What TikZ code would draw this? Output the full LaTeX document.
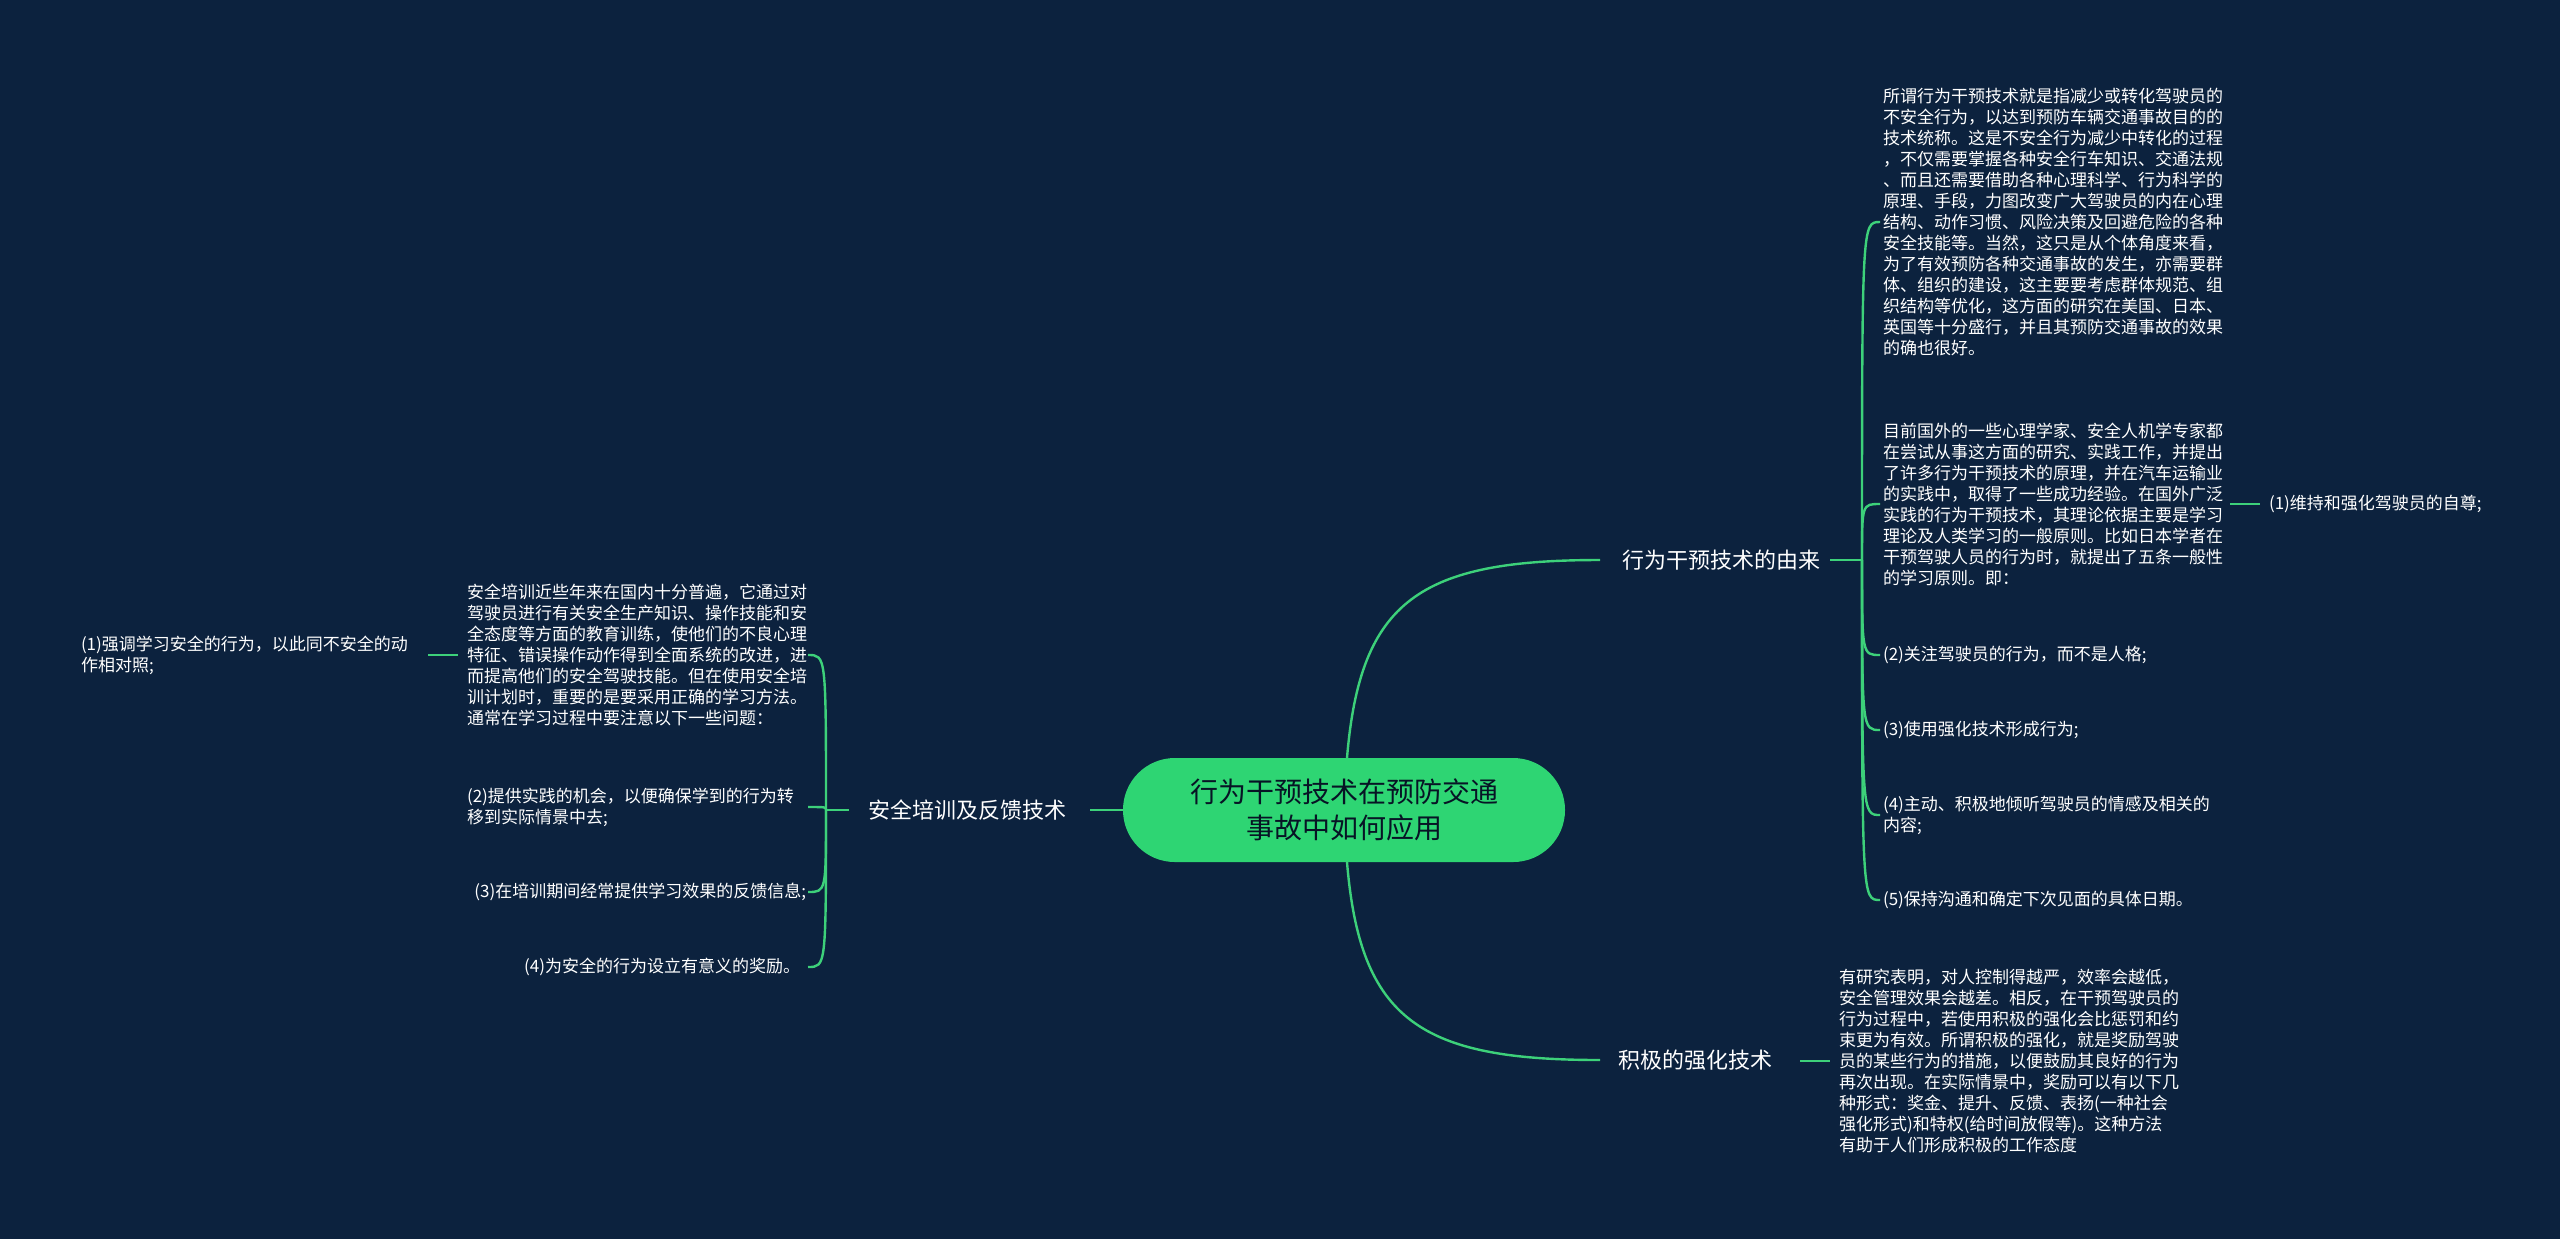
\documentclass[tikz,border=0pt]{standalone}
\usepackage{fontspec}
\setmainfont{Noto Sans CJK SC}
\definecolor{bg}{HTML}{0C223E}
\definecolor{ln}{HTML}{3DD17A}
\definecolor{ctr}{HTML}{2ED573}
\begin{document}
\begin{tikzpicture}[x=0.5pt,y=-0.5pt,
 every node/.style={inner sep=0pt,outer sep=0pt},
 leaf/.style={text=white,font=\fontsize{8.5}{10.5}\selectfont},
 lleaf/.style={leaf,anchor=west,align=left},
 rleaf/.style={leaf,anchor=east,align=right},
 br/.style={text=white,font=\fontsize{11}{13}\selectfont},
 con/.style={draw=ln,line width=1.2pt}]
\fill[bg] (0,0) rectangle (2560,1239);
\useasboundingbox (0,0) rectangle (2560,1239);
\node[fill=ctr,rounded corners=25.9pt,minimum width=221pt,minimum height=52pt,align=center,text=bg!60!black,font=\fontsize{14}{18}\selectfont] (c) at (1344,810) {行为干预技术在预防交通\\事故中如何应用};
% branch 1
\node[br,anchor=west] (b1) at (1622,560) {行为干预技术的由来};
\draw[con] (1347,758) .. controls (1360,600) and (1420,560) .. (1600,560);
\coordinate (s1) at (1862,560);
\draw[con] (1830,560) -- (s1);
\node[lleaf] (r1) at (1883,222) {所谓行为干预技术就是指减少或转化驾驶员的\\不安全行为，以达到预防车辆交通事故目的的\\技术统称。这是不安全行为减少中转化的过程\\，不仅需要掌握各种安全行车知识、交通法规\\、而且还需要借助各种心理科学、行为科学的\\原理、手段，力图改变广大驾驶员的内在心理\\结构、动作习惯、风险决策及回避危险的各种\\安全技能等。当然，这只是从个体角度来看，\\为了有效预防各种交通事故的发生，亦需要群\\体、组织的建设，这主要要考虑群体规范、组\\织结构等优化，这方面的研究在美国、日本、\\英国等十分盛行，并且其预防交通事故的效果\\的确也很好。};
\node[lleaf] (r2) at (1883,504) {目前国外的一些心理学家、安全人机学专家都\\在尝试从事这方面的研究、实践工作，并提出\\了许多行为干预技术的原理，并在汽车运输业\\的实践中，取得了一些成功经验。在国外广泛\\实践的行为干预技术，其理论依据主要是学习\\理论及人类学习的一般原则。比如日本学者在\\干预驾驶人员的行为时，就提出了五条一般性\\的学习原则。即：};
\node[lleaf] (r21) at (2269,504) {(1)维持和强化驾驶员的自尊;};
\draw[con] (2230,504) -- (2260,504);
\node[lleaf] (r3) at (1883,655) {(2)关注驾驶员的行为，而不是人格;};
\node[lleaf] (r4) at (1883,730) {(3)使用强化技术形成行为;};
\node[lleaf] (r5) at (1883,815) {(4)主动、积极地倾听驾驶员的情感及相关的\\内容;};
\node[lleaf] (r6) at (1883,900) {(5)保持沟通和确定下次见面的具体日期。};
\foreach \y in {222,504,655,730,815,900}
  \draw[con] (s1) .. controls (1862,\y) and (1862,\y) .. (1880,\y);
% branch 2
\node[br,anchor=west] (b2) at (1618,1060) {积极的强化技术};
\draw[con] (1347,862) .. controls (1360,1020) and (1420,1060) .. (1600,1060);
\node[lleaf] (g1) at (1839,1061) {有研究表明，对人控制得越严，效率会越低，\\安全管理效果会越差。相反，在干预驾驶员的\\行为过程中，若使用积极的强化会比惩罚和约\\束更为有效。所谓积极的强化，就是奖励驾驶\\员的某些行为的措施，以便鼓励其良好的行为\\再次出现。在实际情景中，奖励可以有以下几\\种形式：奖金、提升、反馈、表扬(一种社会\\强化形式)和特权(给时间放假等)。这种方法\\有助于人们形成积极的工作态度};
\draw[con] (1800,1061) -- (1830,1061);
% left branch
\node[br,anchor=east] (b3) at (1066,810) {安全培训及反馈技术};
\draw[con] (1123,810) -- (1090,810);
\coordinate (s3) at (826,810);
\draw[con] (849,810) -- (s3);
\node[leaf,anchor=west,align=left] (l1) at (467,655) {安全培训近些年来在国内十分普遍，它通过对\\驾驶员进行有关安全生产知识、操作技能和安\\全态度等方面的教育训练，使他们的不良心理\\特征、错误操作动作得到全面系统的改进，进\\而提高他们的安全驾驶技能。但在使用安全培\\训计划时，重要的是要采用正确的学习方法。\\通常在学习过程中要注意以下一些问题：};
\node[leaf,anchor=west,align=left] (l11) at (81,655) {(1)强调学习安全的行为，以此同不安全的动\\作相对照;};
\draw[con] (428,655) -- (458,655);
\node[leaf,anchor=west,align=left] (l2) at (467,807) {(2)提供实践的机会，以便确保学到的行为转\\移到实际情景中去;};
\node[rleaf] (l3) at (806,892) {(3)在培训期间经常提供学习效果的反馈信息;};
\node[rleaf] (l4) at (800,967) {(4)为安全的行为设立有意义的奖励。};
\foreach \y/\x in {655/808,807/808,892/808,967/808}
  \draw[con] (s3) .. controls (826,\y) and (826,\y) .. (\x,\y);
\end{tikzpicture}
\end{document}
